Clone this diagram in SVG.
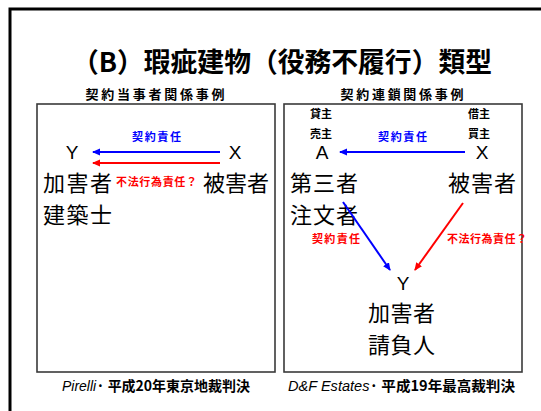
<svg xmlns="http://www.w3.org/2000/svg" width="541" height="411" viewBox="0 0 541 411">
<defs>
<style>
.jp{font-family:"Noto Sans CJK JP","Liberation Sans",sans-serif;fill:#000}
.big{font-size:22px}
.lat{font-family:"Liberation Sans","Noto Sans CJK JP",sans-serif;font-size:19px;fill:#000}
.sm{font-family:"Noto Sans CJK JP",sans-serif;font-size:11px;font-weight:bold}
.box{fill:#fff;stroke:#3a3a3a;stroke-width:1.6}
.blue{stroke:#0000ff;stroke-width:2;fill:none}
.red{stroke:#ff0000;stroke-width:2;fill:none}
</style>
<marker id="ab" markerWidth="8" markerHeight="8" refX="7" refY="4" orient="auto" markerUnits="userSpaceOnUse"><path d="M0,0.5 L8,4 L0,7.5 Z" fill="#0000ff"/></marker>
<marker id="ar" markerWidth="8" markerHeight="8" refX="7" refY="4" orient="auto" markerUnits="userSpaceOnUse"><path d="M0,0.5 L8,4 L0,7.5 Z" fill="#ff0000"/></marker>
</defs>
<rect width="541" height="411" fill="#fff"/>
<rect x="10" y="9" width="560" height="430" fill="none" stroke="#000" stroke-width="3"/>
<text x="282" y="72" class="jp" font-size="27" font-weight="bold" text-anchor="middle" textLength="420" lengthAdjust="spacingAndGlyphs">（B）瑕疵建物（役務不履行）類型</text>
<text x="155" y="99" class="jp" font-size="13" font-weight="bold" text-anchor="middle" textLength="139" lengthAdjust="spacing">契約当事者関係事例</text>
<text x="402" y="99" class="jp" font-size="13" font-weight="bold" text-anchor="middle" textLength="123" lengthAdjust="spacing">契約連鎖関係事例</text>

<g id="box-left"><rect class="box" x="37" y="104" width="238" height="268"/></g>
<g id="box-right"><rect class="box" x="284" y="104" width="238" height="268"/></g>

<g id="node-left-Y">
<text x="72" y="159" class="lat" text-anchor="middle">Y</text>
<text x="43" y="191" class="jp big" textLength="69" lengthAdjust="spacing">加害者</text>
<text x="43" y="223" class="jp big" textLength="69" lengthAdjust="spacing">建築士</text>
</g>
<g id="node-left-X">
<text x="235" y="159" class="lat" text-anchor="middle">X</text>
<text x="203" y="191" class="jp big" textLength="66" lengthAdjust="spacing">被害者</text>
</g>

<g id="node-right-A">
<text x="310" y="118" class="sm" fill="#000">貸主</text>
<text x="310" y="138" class="sm" fill="#000">売主</text>
<text x="322" y="159" class="lat" text-anchor="middle">A</text>
<text x="290" y="191" class="jp big" textLength="68" lengthAdjust="spacing">第三者</text>
<text x="290" y="223" class="jp big" textLength="68" lengthAdjust="spacing">注文者</text>
</g>
<g id="node-right-X">
<text x="468" y="118" class="sm" fill="#000">借主</text>
<text x="468" y="138" class="sm" fill="#000">買主</text>
<text x="482" y="159" class="lat" text-anchor="middle">X</text>
<text x="448" y="191" class="jp big" textLength="68" lengthAdjust="spacing">被害者</text>
</g>
<g id="node-right-Y">
<text x="403" y="290" class="lat" text-anchor="middle">Y</text>
<text x="368" y="321" class="jp big" textLength="67" lengthAdjust="spacing">加害者</text>
<text x="368" y="353" class="jp big" textLength="67" lengthAdjust="spacing">請負人</text>
</g>

<g id="connectors">
<line class="blue" x1="220" y1="152" x2="93" y2="152" marker-end="url(#ab)"/>
<line class="red" x1="220" y1="163" x2="93" y2="163" marker-end="url(#ar)"/>
<text x="132" y="141" class="sm" fill="#0000ff" textLength="49" lengthAdjust="spacing">契約責任</text>
<text x="116" y="186" class="sm" fill="#ff0000" textLength="81" lengthAdjust="spacing">不法行為責任？</text>
<line class="blue" x1="465" y1="152" x2="340" y2="152" marker-end="url(#ab)"/>
<text x="378" y="141" class="sm" fill="#0000ff" textLength="49" lengthAdjust="spacing">契約責任</text>
<line class="blue" x1="343" y1="202" x2="390" y2="270" marker-end="url(#ab)"/>
<line class="red" x1="463" y1="203" x2="415" y2="270" marker-end="url(#ar)"/>
<text x="312" y="243" class="sm" fill="#ff0000" textLength="48" lengthAdjust="spacing">契約責任</text>
<text x="447" y="243" class="sm" fill="#ff0000" textLength="80" lengthAdjust="spacing">不法行為責任？</text>
</g>

<text x="62" y="391" font-size="14" textLength="188" lengthAdjust="spacingAndGlyphs"><tspan font-family="Liberation Sans,sans-serif" font-style="italic">Pirelli</tspan><tspan class="jp" font-weight="bold">· 平成20年東京地裁判決</tspan></text>
<text x="288" y="391" font-size="14" textLength="227" lengthAdjust="spacingAndGlyphs"><tspan font-family="Liberation Sans,sans-serif" font-style="italic">D&amp;F Estates</tspan><tspan class="jp" font-weight="bold">· 平成19年最高裁判決</tspan></text>
</svg>
